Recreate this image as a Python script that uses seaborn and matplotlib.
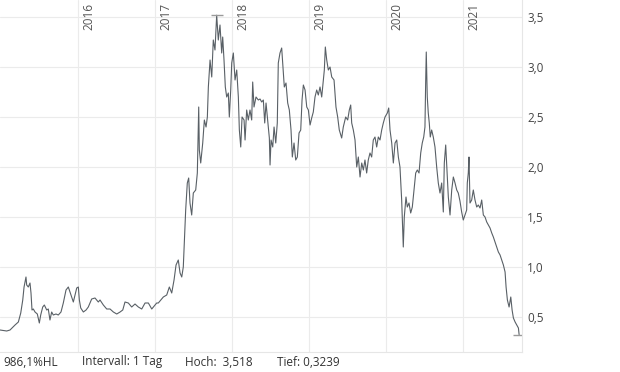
import matplotlib
matplotlib.use("Agg")
import matplotlib.pyplot as plt
import seaborn as sns
import pandas as pd
from matplotlib.ticker import FuncFormatter

# decimal year / price
years = [
    2014.992, 2015.079, 2015.122, 2015.187, 2015.230, 2015.261, 2015.287, 2015.304, 2015.329, 2015.338,
    2015.359, 2015.381, 2015.394, 2015.407, 2015.424, 2015.446, 2015.476, 2015.502, 2015.520, 2015.546,
    2015.567, 2015.598, 2015.618, 2015.640, 2015.662, 2015.683, 2015.718, 2015.748, 2015.783, 2015.813,
    2015.848, 2015.878, 2015.900, 2015.922, 2015.943, 2015.965, 2015.987, 2016.008, 2016.021, 2016.039,
    2016.073, 2016.108, 2016.137, 2016.181, 2016.224, 2016.267, 2016.289, 2016.332, 2016.376, 2016.419,
    2016.462, 2016.506, 2016.549, 2016.584, 2016.613, 2016.656, 2016.700, 2016.743, 2016.786, 2016.830,
    2016.873, 2016.916, 2016.960, 2016.981, 2017.024, 2017.045, 2017.110, 2017.154, 2017.188, 2017.219,
    2017.249, 2017.275, 2017.304, 2017.327, 2017.349, 2017.369, 2017.382, 2017.400, 2017.421, 2017.439,
    2017.456, 2017.478, 2017.499, 2017.530, 2017.551, 2017.569, 2017.577, 2017.595, 2017.621, 2017.642,
    2017.664, 2017.681, 2017.694, 2017.716, 2017.738, 2017.758, 2017.780, 2017.802, 2017.823, 2017.845,
    2017.867, 2017.880, 2017.897, 2017.914, 2017.932, 2017.953, 2017.966, 2017.984, 2017.997, 2018.018,
    2018.040, 2018.062, 2018.083, 2018.096, 2018.114, 2018.131, 2018.157, 2018.170, 2018.191, 2018.212,
    2018.234, 2018.256, 2018.269, 2018.286, 2018.312, 2018.342, 2018.364, 2018.386, 2018.407, 2018.425,
    2018.442, 2018.459, 2018.472, 2018.485, 2018.494, 2018.507, 2018.529, 2018.546, 2018.568, 2018.588,
    2018.601, 2018.623, 2018.645, 2018.658, 2018.679, 2018.701, 2018.723, 2018.744, 2018.766, 2018.783,
    2018.805, 2018.827, 2018.848, 2018.870, 2018.892, 2018.909, 2018.926, 2018.948, 2018.970, 2018.991,
    2019.013, 2019.034, 2019.055, 2019.077, 2019.099, 2019.120, 2019.142, 2019.164, 2019.185, 2019.198,
    2019.211, 2019.229, 2019.250, 2019.272, 2019.294, 2019.324, 2019.349, 2019.371, 2019.392, 2019.423,
    2019.444, 2019.475, 2019.501, 2019.522, 2019.540, 2019.553, 2019.574, 2019.596, 2019.618, 2019.639,
    2019.661, 2019.683, 2019.704, 2019.725, 2019.747, 2019.768, 2019.790, 2019.812, 2019.833, 2019.855,
    2019.877, 2019.898, 2019.920, 2019.942, 2019.963, 2019.985, 2020.015, 2020.033, 2020.050, 2020.072,
    2020.093, 2020.115, 2020.137, 2020.158, 2020.179, 2020.201, 2020.214, 2020.222, 2020.235, 2020.257,
    2020.274, 2020.296, 2020.318, 2020.339, 2020.361, 2020.383, 2020.404, 2020.426, 2020.448, 2020.468,
    2020.487, 2020.503, 2020.512, 2020.520, 2020.533, 2020.546, 2020.559, 2020.572, 2020.590, 2020.611,
    2020.633, 2020.655, 2020.676, 2020.698, 2020.720, 2020.741, 2020.754, 2020.772, 2020.789, 2020.806,
    2020.828, 2020.850, 2020.871, 2020.893, 2020.915, 2020.935, 2020.957, 2020.979, 2021.000, 2021.022,
    2021.044, 2021.052, 2021.065, 2021.074, 2021.087, 2021.109, 2021.130, 2021.152, 2021.174, 2021.195,
    2021.217, 2021.239, 2021.260, 2021.282, 2021.304, 2021.325, 2021.347, 2021.369, 2021.390, 2021.412,
    2021.434, 2021.455, 2021.477, 2021.499, 2021.520, 2021.542, 2021.555, 2021.572, 2021.594, 2021.616,
    2021.633, 2021.650, 2021.672, 2021.694, 2021.715, 2021.724,
]
prices = [
    0.37, 0.36, 0.37, 0.42, 0.45, 0.54, 0.67, 0.80, 0.90, 0.82,
    0.80, 0.84, 0.74, 0.57, 0.58, 0.55, 0.53, 0.44, 0.52, 0.60,
    0.62, 0.57, 0.58, 0.47, 0.55, 0.52, 0.53, 0.52, 0.55, 0.64,
    0.77, 0.80, 0.75, 0.70, 0.65, 0.72, 0.79, 0.80, 0.67, 0.59,
    0.55, 0.57, 0.60, 0.68, 0.69, 0.65, 0.67, 0.62, 0.58, 0.58,
    0.55, 0.53, 0.55, 0.57, 0.65, 0.64, 0.60, 0.63, 0.60, 0.58,
    0.64, 0.64, 0.58, 0.60, 0.64, 0.64, 0.70, 0.72, 0.80, 0.74,
    0.87, 1.02, 1.07, 0.94, 0.90, 1.00, 1.24, 1.57, 1.84, 1.89,
    1.64, 1.52, 1.74, 1.77, 1.94, 2.60, 2.17, 2.04, 2.24, 2.47,
    2.40, 2.50, 2.80, 3.07, 2.90, 3.27, 3.17, 3.518, 3.27, 3.42,
    3.14, 3.30, 3.07, 2.80, 2.70, 2.74, 2.50, 2.77, 3.04, 3.14,
    2.87, 2.97, 2.70, 2.37, 2.20, 2.50, 2.47, 2.27, 2.57, 2.47,
    2.57, 2.47, 2.85, 2.60, 2.70, 2.67, 2.68, 2.65, 2.67, 2.44,
    2.64, 2.50, 2.40, 2.29, 2.02, 2.27, 2.20, 2.40, 2.24, 2.44,
    3.04, 3.14, 3.19, 3.04, 2.80, 2.84, 2.64, 2.57, 2.37, 2.10,
    2.24, 2.07, 2.10, 2.34, 2.37, 2.67, 2.82, 2.77, 2.60, 2.57,
    2.42, 2.49, 2.55, 2.70, 2.77, 2.72, 2.80, 2.70, 2.87, 2.97,
    3.20, 3.07, 2.97, 3.00, 2.90, 2.87, 2.60, 2.50, 2.37, 2.29,
    2.40, 2.50, 2.47, 2.57, 2.62, 2.44, 2.37, 2.27, 2.00, 2.10,
    1.90, 2.04, 1.97, 2.07, 1.94, 2.07, 2.14, 2.10, 2.27, 2.30,
    2.20, 2.30, 2.27, 2.37, 2.44, 2.50, 2.54, 2.59, 2.37, 2.24,
    2.04, 2.24, 2.27, 2.10, 2.00, 1.67, 1.37, 1.20, 1.50, 1.70,
    1.60, 1.64, 1.54, 1.60, 1.77, 1.94, 1.97, 1.94, 2.14, 2.24,
    2.30, 2.40, 2.84, 3.15, 2.70, 2.54, 2.44, 2.30, 2.37, 2.30,
    2.20, 2.00, 1.84, 1.74, 1.84, 1.55, 2.04, 2.22, 1.97, 1.70,
    1.52, 1.77, 1.90, 1.84, 1.77, 1.74, 1.66, 1.55, 1.47, 1.52,
    1.57, 1.84, 1.94, 2.10, 1.64, 1.67, 1.77, 1.67, 1.60, 1.62,
    1.59, 1.67, 1.52, 1.50, 1.45, 1.42, 1.39, 1.34, 1.30, 1.25,
    1.20, 1.15, 1.12, 1.07, 1.02, 0.95, 0.80, 0.67, 0.60, 0.70,
    0.57, 0.49, 0.45, 0.42, 0.39, 0.3239,
]
year_ticks = [2016, 2017, 2018, 2019, 2020, 2021]
price_ticks = [0.5, 1.0, 1.5, 2.0, 2.5, 3.0, 3.5]
footer = ["986,1%HL", "Intervall: 1 Tag", "Hoch:  3,518", "Tief: 0,3239"]

df = pd.DataFrame({"year": years, "price": prices})

sns.set_style("white")
plt.rcParams["font.family"] = ["Open Sans", "DejaVu Sans"]

fig = plt.figure(figsize=(6.2, 3.72), dpi=100)
ax = fig.add_axes([0.0, 20 / 372, 521.5 / 620, 352 / 372])

sns.lineplot(data=df, x="year", y="price", ax=ax, color="#596066", linewidth=0.8, sort=False)

# high / low markers
hi = df.loc[df["price"].idxmax()]
lo = df.loc[df["price"].idxmin()]
for row in (hi, lo):
    ax.plot([row["year"]], [row["price"]], marker="_", markersize=8, mew=1, color="#9a9a9a")

ax.set_xlim(2014.992, 2021.755)
ax.set_ylim(0.15, 3.67)
ax.set_xticks(year_ticks)
ax.set_yticks(price_ticks)
ax.grid(True, color="#ebebeb", linewidth=0.8)
ax.tick_params(axis="x", length=0, labelbottom=False)
ax.yaxis.tick_right()
ax.tick_params(axis="y", length=0, pad=4, labelsize=8.5, labelcolor="#444444")
ax.yaxis.set_major_formatter(FuncFormatter(lambda v, _: f"{v:.1f}".replace(".", ",")))
ax.set_xlabel("")
ax.set_ylabel("")
for side in ("left", "top"):
    ax.spines[side].set_visible(False)
for side in ("right", "bottom"):
    ax.spines[side].set_color("#e6e6e6")
    ax.spines[side].set_linewidth(0.8)

for yr in year_ticks:
    ax.text(yr + 0.055, 0.992, str(yr), transform=ax.get_xaxis_transform(), rotation=90,
            ha="left", va="top", fontsize=8.5, color="#555555")

fig.text(58 / 620, 1 - 362 / 372, footer[0], ha="right", va="center", fontsize=8.5, color="#333333")
fig.text(82 / 620, 1 - 362 / 372, footer[1], ha="left", va="center", fontsize=8.5, color="#333333")
fig.text(185 / 620, 1 - 362 / 372, footer[2], ha="left", va="center", fontsize=8.5, color="#333333")
fig.text(277 / 620, 1 - 362 / 372, footer[3], ha="left", va="center", fontsize=8.5, color="#333333")

fig.savefig("out.png", dpi=100)
